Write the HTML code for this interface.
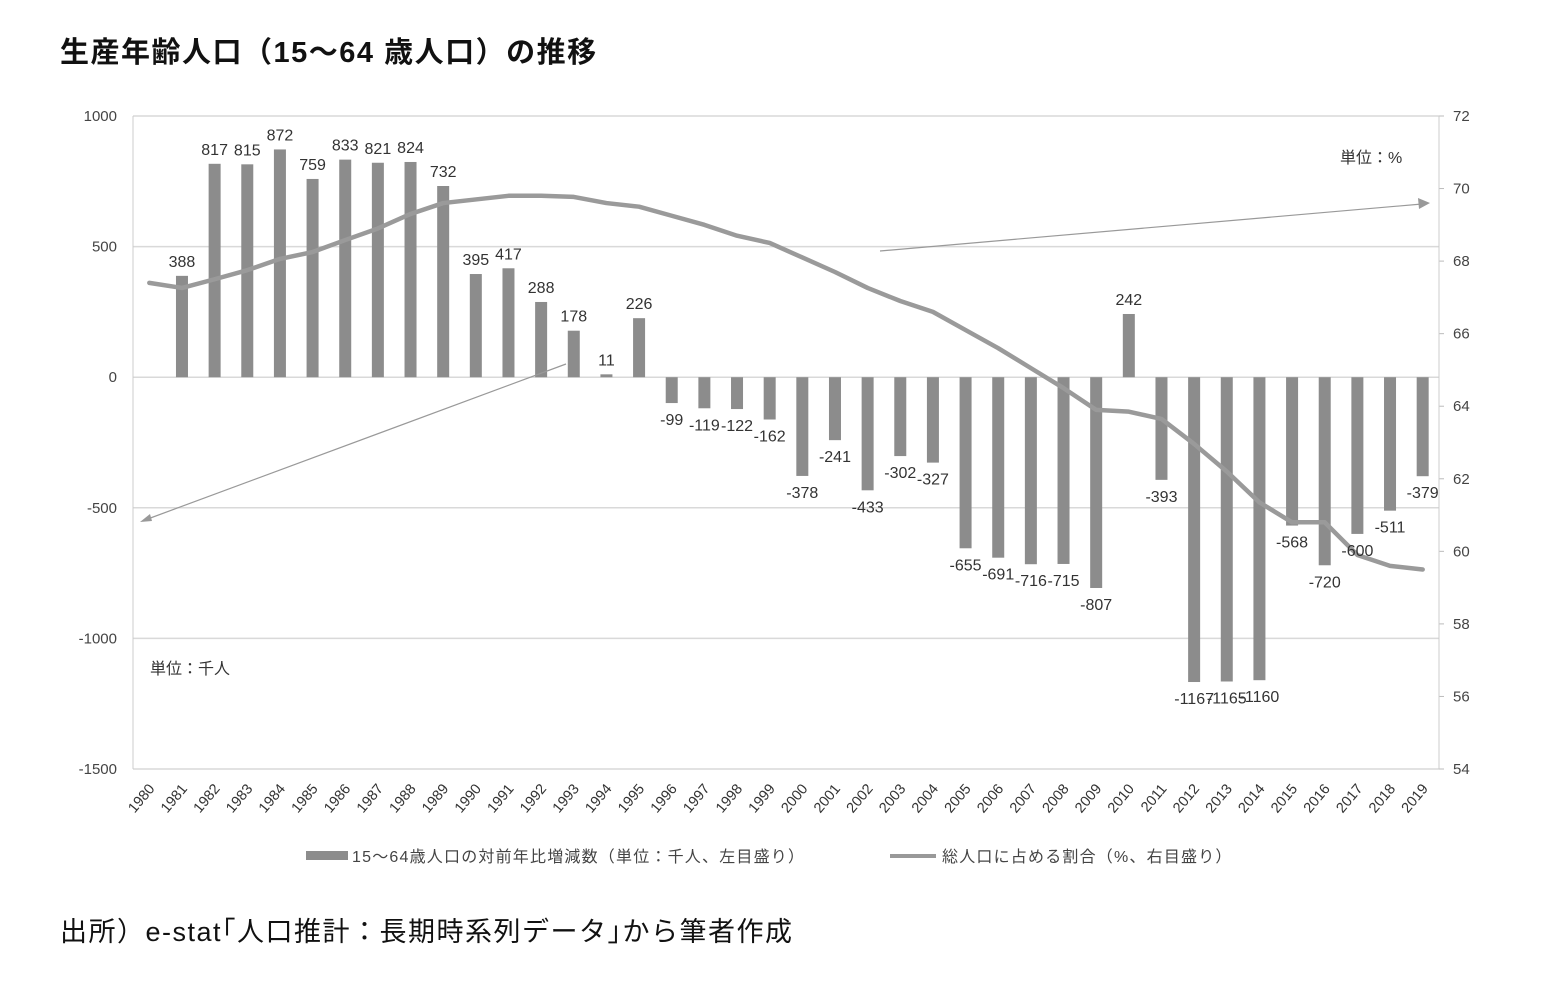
<!DOCTYPE html>
<html><head><meta charset="utf-8"><style>
body{margin:0;background:#fff;width:1565px;height:983px;overflow:hidden;font-family:"Liberation Sans","Noto Sans CJK JP",sans-serif;}
svg text{font-family:"Liberation Sans","Noto Sans CJK JP",sans-serif;}
</style></head><body>
<svg width="1565" height="983">
<text x="60" y="62" font-size="29" font-weight="bold" fill="#111" letter-spacing="1.5">生産年齢人口（15〜64 歳人口）の推移</text>
<g id="grid"></g><g id="bars"></g><g id="line"></g><g id="labels"></g><g id="axes"></g>
<line x1="566" y1="364" x2="145" y2="520" stroke="#999" stroke-width="1.2"/>
<polygon points="140,522 150,514 152,521" fill="#999"/>
<line x1="880" y1="251" x2="1422" y2="204" stroke="#999" stroke-width="1.2"/>
<polygon points="1430,203 1418,198 1419,209" fill="#999"/>
<text x="1340" y="163" font-size="16" fill="#333">単位：%</text>
<text x="150" y="674" font-size="16" fill="#333">単位：千人</text>
<g>
<rect x="306" y="851" width="42" height="9" fill="#8c8c8c"/>
<text x="352" y="862" font-size="16" letter-spacing="1.2" fill="#444">15〜64歳人口の対前年比増減数（単位：千人、左目盛り）</text>
<line x1="890" y1="856" x2="936" y2="856" stroke="#999" stroke-width="4"/>
<text x="942" y="862" font-size="16" letter-spacing="1.2" fill="#444">総人口に占める割合（%、右目盛り）</text>
</g>
<text x="60" y="941" font-size="27" letter-spacing="1.5" fill="#111">出所）e-stat｢人口推計：長期時系列データ｣から筆者作成</text>
</svg>
<script>
const years=[];for(let y=1980;y<=2019;y++)years.push(String(y));
const changes=[null,388,817,815,872,759,833,821,824,732,395,417,288,178,11,226,-99,-119,-122,-162,-378,-241,-433,-302,-327,-655,-691,-716,-715,-807,242,-393,-1167,-1165,-1160,-568,-720,-600,-511,-379];
const shares=[67.4,67.26,67.5,67.75,68.06,68.25,68.58,68.9,69.3,69.6,69.7,69.8,69.8,69.77,69.6,69.5,69.25,69.0,68.7,68.5,68.1,67.7,67.26,66.9,66.6,66.1,65.6,65.05,64.5,63.9,63.85,63.65,62.96,62.2,61.35,60.8,60.8,59.9,59.6,59.5];
const leftTicks=[1000,500,0,-500,-1000,-1500];
const rightTicks=[72,70,68,66,64,62,60,58,56,54];
const X0=133,X1=1439,Y0=116,Y1=769,NS="http://www.w3.org/2000/svg";
const step=(X1-X0)/years.length;
const xc=i=>X0+(i+0.5)*step;
const yl=v=>Y0+(1000-v)/2500*(Y1-Y0);
const yr=v=>Y0+(72-v)/18*(Y1-Y0);
function mk(tag,attrs,parent,txt){const e=document.createElementNS(NS,tag);for(const k in attrs)e.setAttribute(k,attrs[k]);if(txt!==undefined)e.textContent=txt;document.getElementById(parent).appendChild(e);return e;}
leftTicks.forEach(t=>{
 const g=mk('line',{x1:X0,x2:X1,y1:yl(t),y2:yl(t),stroke:'#d9d9d9','stroke-width':1.5},'grid');
 
 
 const l=mk('text',{x:X0-16,y:yl(t)+5,'font-size':15,'text-anchor':'end',fill:'#444'},'axes',String(t));
 
 
});
rightTicks.forEach(t=>{
 const l=mk('text',{x:X1+14,y:yr(t)+5,'font-size':15,fill:'#444'},'axes',String(t));
 
 
 mk('line',{x1:X1,x2:X1+5,y1:yr(t),y2:yr(t),stroke:'#bbb'},'axes');
});
mk('line',{x1:X0,x2:X0,y1:Y0,y2:Y1,stroke:'#ccc'},'axes');
mk('line',{x1:X1,x2:X1,y1:Y0,y2:Y1,stroke:'#ccc'},'axes');
years.forEach((y,i)=>{
 const t=mk('text',{x:xc(i)+6,y:Y1+20,'font-size':14.5,'text-anchor':'end',fill:'#333',transform:`rotate(-50 ${xc(i)+6} ${Y1+20})`},'axes',y);
 
 
 const v=changes[i];if(v===null)return;
 const y0=yl(0),yv=yl(v);
 const b=mk('rect',{x:xc(i)-6,y:Math.min(y0,yv),width:12,height:Math.abs(yv-y0),fill:'#8c8c8c'},'bars');
 
 
 const lb=mk('text',{x:xc(i),y:v>=0?yv-9:yv+22,'font-size':16,'text-anchor':'middle',fill:'#333'},'labels',String(v));
 
 
});
let d='';shares.forEach((v,i)=>{d+=(i?'L':'M')+xc(i)+' '+yr(v);});
const p=mk('path',{d:d,fill:'none',stroke:'#9a9a9a','stroke-width':4.5,'stroke-linejoin':'round','stroke-linecap':'round'},'line');


</script>
</body></html>
